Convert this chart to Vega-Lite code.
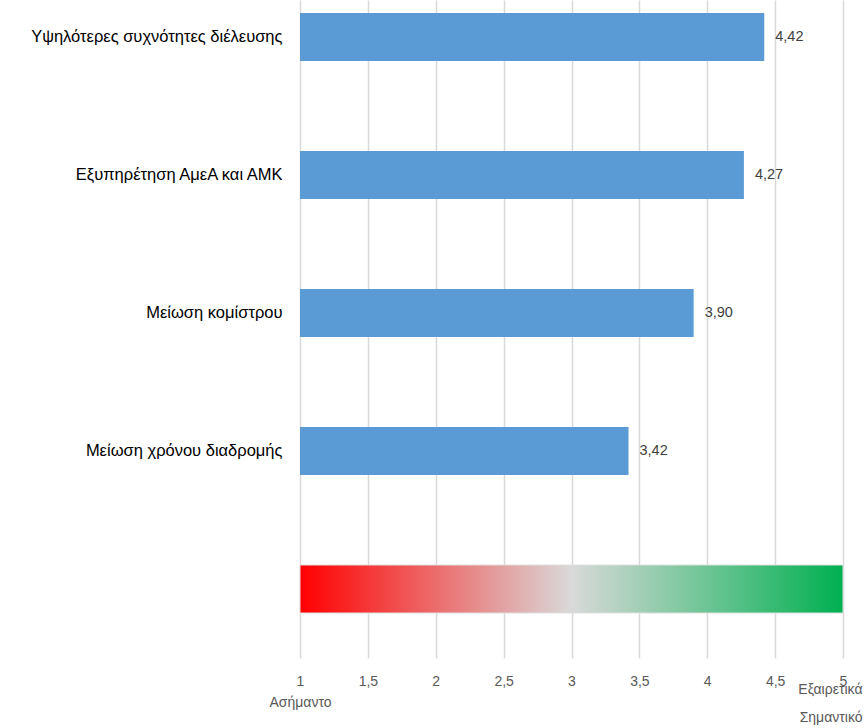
{
  "$schema": "https://vega.github.io/schema/vega-lite/v6.json",
  "autosize": {"type": "none"},
  "padding": {"left": 300, "top": 0, "right": 22, "bottom": 70},
  "width": 543,
  "height": 658,
  "background": "#ffffff",
  "config": {
    "view": {"stroke": null},
    "font": "Liberation Sans",
    "locale": {"number": {"decimal": ",", "thousands": ".", "grouping": [3], "currency": ["", " €"]}}
  },
  "datasets": {
    "bars": [
      {"item": "Υψηλότερες συχνότητες διέλευσης", "score": 4.42},
      {"item": "Εξυπηρέτηση ΑμεΑ και ΑΜΚ", "score": 4.27},
      {"item": "Μείωση κομίστρου", "score": 3.90},
      {"item": "Μείωση χρόνου διαδρομής", "score": 3.42}
    ],
    "scale": [
      {"item": "Κλίμακα", "from": 1, "to": 5}
    ]
  },
  "encoding": {
    "y": {
      "field": "item",
      "type": "nominal",
      "sort": null,
      "scale": {
        "domain": ["Υψηλότερες συχνότητες διέλευσης", "Εξυπηρέτηση ΑμεΑ και ΑΜΚ", "Μείωση κομίστρου", "Μείωση χρόνου διαδρομής", "Κλίμακα"],
        "paddingInner": 0.652,
        "paddingOuter": 0.21,
        "align": 0.224
      },
      "axis": {
        "title": null,
        "domain": false,
        "ticks": false,
        "grid": false,
        "labelPadding": 18,
        "labelFontSize": 16.5,
        "labelColor": "#000000",
        "labelLimit": 300,
        "labelExpr": "datum.value == 'Κλίμακα' ? '' : datum.label"
      }
    }
  },
  "layer": [
    {
      "data": {"name": "bars"},
      "mark": {"type": "bar", "color": "#5B9BD5"},
      "encoding": {
        "x": {
          "field": "score",
          "type": "quantitative",
          "scale": {"domain": [1, 5], "zero": false, "nice": false},
          "axis": {
            "title": ["Εξαιρετικά", "Σημαντικό"],
            "titleAlign": "right",
            "titleAnchor": "end",
            "titleX": 562,
            "titleY": 24,
            "titleBaseline": "top",
            "titleLineHeight": 28,
            "titleFontSize": 14,
            "titleFontWeight": "normal",
            "titleColor": "#595959",
            "values": [1, 1.5, 2, 2.5, 3, 3.5, 4, 4.5, 5],
            "format": ".1~f",
            "domain": false,
            "ticks": false,
            "grid": true,
            "gridColor": "#D9D9D9",
            "gridWidth": 1.5,
            "labelPadding": 16,
            "labelFontSize": 14,
            "labelColor": "#595959",
            "labelLineHeight": 21,
            "labelFlush": false,
            "labelExpr": "datum.value == 1 ? [datum.label, 'Ασήμαντο'] : datum.label"
          }
        },
        "x2": {"datum": 1}
      }
    },
    {
      "data": {"name": "scale"},
      "mark": {
        "type": "bar",
        "stroke": "#E0E0E0",
        "strokeWidth": 1,
        "color": {
          "gradient": "linear",
          "x1": 0, "y1": 0, "x2": 1, "y2": 0,
          "stops": [
            {"offset": 0, "color": "#FF0000"},
            {"offset": 0.5, "color": "#D9D9D9"},
            {"offset": 1, "color": "#00B050"}
          ]
        }
      },
      "encoding": {
        "x": {"field": "from", "type": "quantitative"},
        "x2": {"field": "to"}
      }
    },
    {
      "data": {"name": "bars"},
      "mark": {"type": "text", "align": "left", "baseline": "middle", "dx": 11, "fontSize": 14.5, "color": "#404040"},
      "encoding": {
        "x": {"field": "score", "type": "quantitative"},
        "text": {"field": "score", "type": "quantitative", "format": ".2f"}
      }
    }
  ]
}
